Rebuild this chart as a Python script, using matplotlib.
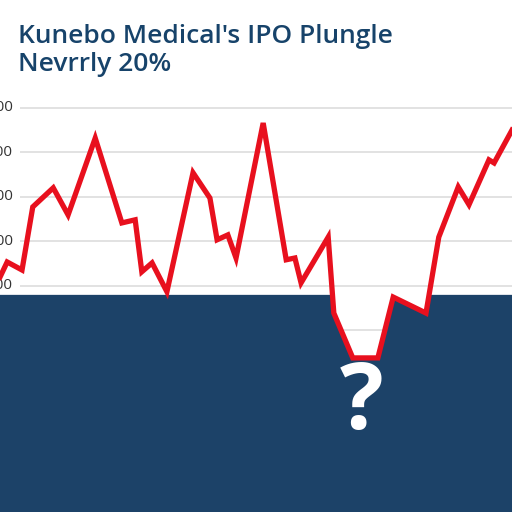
import numpy as np
import matplotlib.pyplot as plt
import matplotlib.transforms as mtransforms

# price path (x = day index 0..100, y = value)
days = [0, 1.4, 4.3, 6.4, 10.4, 13.3, 18.6, 23.8, 26.4, 27.7, 29.7, 32.6,
        37.7, 41.0, 42.4, 44.5, 46.1, 51.4, 55.9, 57.6, 58.8, 64.1, 65.2,
        68.9, 73.8, 76.8, 83.2, 85.7, 89.5, 91.6, 95.5, 96.5, 100]
prices = [119, 153, 135, 277, 320, 259, 432, 241, 248, 131, 151, 86,
          354, 297, 203, 214, 162, 466, 158, 162, 106, 209, 38,
          -63, -63, 74, 38, 209, 322, 282, 383, 376, 450]
grid_levels = [500, 400, 300, 200, 100, 0]
tick_labels = ["500", "400", "300", "200", "100"]
panel_top = 79
y_bottom = -410

title = "Kunebo Medical's IPO Plungle\nNevrrly 20%"

navy = "#1c4268"
red = "#e8101e"

fig = plt.figure(figsize=(5.12, 5.12), dpi=100)
ax = fig.add_axes([0, 0, 1, 1])
ax.set_xlim(0, 100)
ax.set_ylim(y_bottom, 743)
ax.axis("off")

# gridlines (the 0 line only shows inside the white dip)
grid_x0 = 20 / 512 * 100
ax.hlines(grid_levels, grid_x0, 100, color="#dddddd", lw=1.2, zorder=1)

trans = mtransforms.blended_transform_factory(ax.transAxes, ax.transData)
for lvl, lab in zip(grid_levels, tick_labels):
    ax.text(13 / 512, lvl, lab, transform=trans, ha="right", va="center",
            fontsize=11, color="#333333", family="Open Sans")

# navy panel whose top edge follows the line where it dips below
x = np.array(days, dtype=float)
y = np.array(prices, dtype=float)
xf = np.union1d(x, np.linspace(0, 100, 4001))
yf = np.interp(xf, x, y)
ax.fill_between(xf, y_bottom, np.minimum(yf, panel_top), facecolor=navy,
                edgecolor="none", zorder=2)

ax.plot(days, prices, color=red, lw=3.8, solid_joinstyle="miter", zorder=5)

ax.text(70.7, -170, "?", ha="center", va="center", fontsize=66,
        fontweight="bold", color="white", family="Open Sans", zorder=6)

fig.text(18 / 512, 1 - 24 / 512, title, ha="left", va="top", fontsize=19,
         color="#17436a", family="Open Sans", fontweight="semibold",
         linespacing=1.15)

fig.savefig("out.png", dpi=100)
